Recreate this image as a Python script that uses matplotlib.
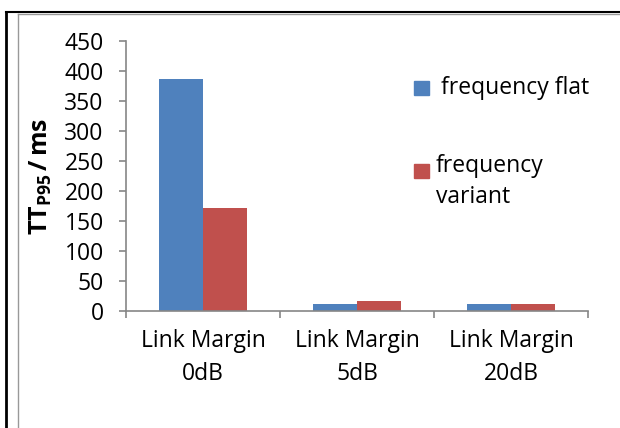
import numpy as np
import matplotlib.pyplot as plt
from matplotlib.lines import Line2D
from matplotlib.patches import Rectangle

# data
categories = ["Link Margin\n0dB", "Link Margin\n5dB", "Link Margin\n20dB"]
freq_flat = [387, 12, 12]
freq_variant = [172, 17, 12.5]
series_names = ["frequency flat", "frequency\nvariant"]

blue = "#4F81BD"
red = "#C0504D"
axis_gray = "#868686"

plt.rcParams["font.family"] = ["Open Sans", "DejaVu Sans"]
plt.rcParams["mathtext.fontset"] = "custom"
plt.rcParams["mathtext.bf"] = "Open Sans:bold"
plt.rcParams["mathtext.rm"] = "Open Sans"

fig = plt.figure(figsize=(6.2, 4.28), dpi=100)
ax = fig.add_axes([126 / 620, 1 - 311 / 428, (588 - 126) / 620, 270 / 428])

x = np.arange(len(categories))
w = 0.285
ax.bar(x - w / 2, freq_flat, w, color=blue, label=series_names[0])
ax.bar(x + w / 2, freq_variant, w, color=red, label=series_names[1])

ax.set_xlim(-0.5, 2.5)
ax.set_ylim(0, 450)
ax.set_yticks(np.arange(0, 451, 50))
ax.tick_params(axis="y", labelsize=16.5, length=5, width=1.2, color=axis_gray, pad=11)

# category labels centred, tick marks on the boundaries
ax.set_xticks(x)
ax.set_xticklabels(categories, fontsize=16.5, linespacing=1.5)
ax.tick_params(axis="x", length=0, pad=13)
ax.set_xticks([-0.5, 0.5, 1.5, 2.5], minor=True)
ax.tick_params(axis="x", which="minor", length=5, width=1.2, color=axis_gray, direction="out")

for s in ["top", "right"]:
    ax.spines[s].set_visible(False)
for s in ["left", "bottom"]:
    ax.spines[s].set_color(axis_gray)
    ax.spines[s].set_linewidth(1.2)

ax.set_ylabel(r"$\mathbf{TT}_{\mathbf{P95}}\mathbf{\,/\,ms}$", fontsize=18)
ax.yaxis.set_label_coords(-0.155, 0.5)

# legend drawn by hand, like the excel one
fig.patches.append(Rectangle((414 / 620, 1 - 95 / 428), 15 / 620, 14 / 428,
                             transform=fig.transFigure, color=blue))
fig.text(441 / 620, 1 - 88 / 428, series_names[0], fontsize=16.5, va="center")
fig.patches.append(Rectangle((414 / 620, 1 - 178 / 428), 15 / 620, 14 / 428,
                             transform=fig.transFigure, color=red))
fig.text(436 / 620, 1 - 154 / 428, series_names[1], fontsize=16.5, va="top",
         linespacing=1.4)

# frame around the chart
fig.lines.append(Line2D([6 / 620, 6 / 620], [0, 1 - 12 / 428], color="black", lw=2,
                        transform=fig.transFigure))
fig.lines.append(Line2D([6 / 620, 1], [1 - 12 / 428, 1 - 12 / 428], color="black", lw=1.5,
                        transform=fig.transFigure))
fig.lines.append(Line2D([18 / 620, 18 / 620], [0, 1 - 14 / 428], color="#999999", lw=1,
                        transform=fig.transFigure))
fig.lines.append(Line2D([18 / 620, 1], [1 - 14 / 428, 1 - 14 / 428], color="#999999", lw=1,
                        transform=fig.transFigure))

fig.savefig("out.png", dpi=100)
